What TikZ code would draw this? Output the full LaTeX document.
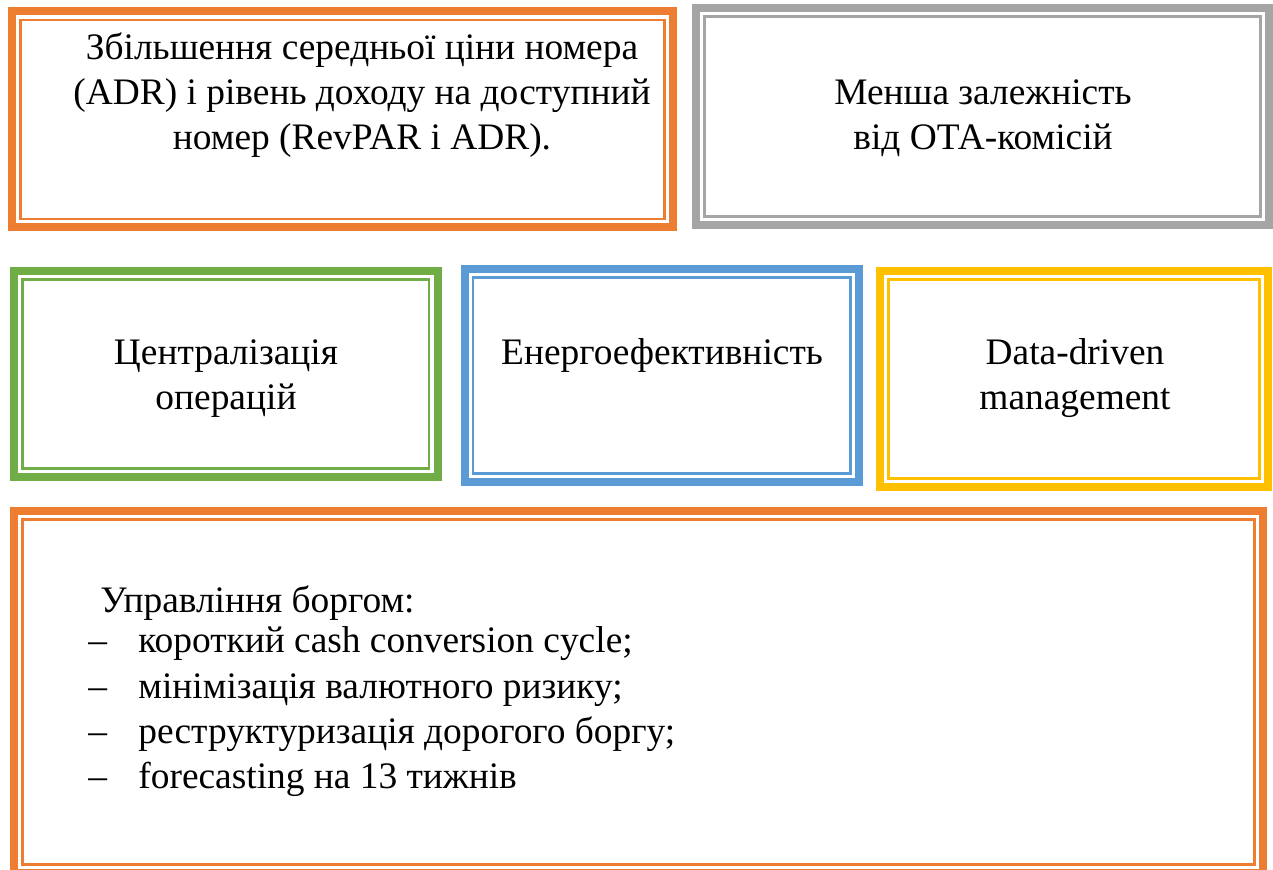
\documentclass[tikz,border=0pt]{standalone}
\usepackage{fontspec}
\setmainfont{Liberation Serif}
\usetikzlibrary{positioning}

\definecolor{borange}{RGB}{237,125,49}
\definecolor{bgray}{RGB}{165,165,165}
\definecolor{bgreen}{RGB}{112,173,71}
\definecolor{bblue}{RGB}{91,155,213}
\definecolor{byellow}{RGB}{255,192,0}

\tikzset{
  framebox/.style={draw=#1, line width=4pt, inner sep=0pt},
  innerline/.style={draw=#1, line width=1.25pt},
  boxtext/.style={font=\fontsize{18.7}{22.5}\selectfont, align=center, inner sep=0pt, anchor=base},
  listtext/.style={font=\fontsize{18.7}{22.5}\selectfont, align=left, inner sep=0pt, anchor=base west}
}

\newcommand{\doubleframe}[3]{%
  \draw[framebox=#1] (#2) rectangle (#3);
  \draw[innerline=#1] ([shift={(8.5,8.5)}]#2) rectangle ([shift={(-8.5,-8.5)}]#3);
}

\begin{document}
\begin{tikzpicture}[x=0.5pt,y=-0.5pt]
  \useasboundingbox (0,0) rectangle (1273,870);

  % frames
  \coordinate (adrA) at (12,11.5);     \coordinate (adrB) at (673,227.5);
  \coordinate (otaA) at (696,8);       \coordinate (otaB) at (1269,225);
  \coordinate (cenA) at (14,271);      \coordinate (cenB) at (437.5,477);
  \coordinate (eneA) at (464.5,269);   \coordinate (eneB) at (859,482);
  \coordinate (datA) at (880,271);     \coordinate (datB) at (1268,487);
  \coordinate (debA) at (14,511);      \coordinate (debB) at (1263,873);

  \doubleframe{borange}{adrA}{adrB}
  \doubleframe{bgray}{otaA}{otaB}
  \doubleframe{bgreen}{cenA}{cenB}
  \doubleframe{bblue}{eneA}{eneB}
  \doubleframe{byellow}{datA}{datB}
  \doubleframe{borange}{debA}{debB}

  % texts (base = last line)
  \node(adr) [boxtext] at (362,150) {Збільшення середньої ціни номера\\(ADR) і рівень доходу на доступний\\номер (RevPAR і ADR).};
  \node(ota) [boxtext] at (983,150) {Менша залежність\\від ОТА-комісій};
  \node(cen) [boxtext] at (226,410) {Централізація\\операцій};
  \node(ene) [boxtext] at (662,365) {Енергоефективність};
  \node(dat) [boxtext] at (1075,410) {Data-driven\\management};

  \node(debt) [listtext] at (100,612) {Управління боргом:};
  \foreach \y/\item [count=\i] in {653/{короткий cash conversion cycle;},
                                   698/{мінімізація валютного ризику;},
                                   743/{реструктуризація дорогого боргу;},
                                   788/{forecasting на 13 тижнів}} {
    \node(dash\i) [listtext] at (88,\y) {–};
    \node(item\i) [listtext] at (138,\y) {\item};
  }
\end{tikzpicture}
\end{document}
